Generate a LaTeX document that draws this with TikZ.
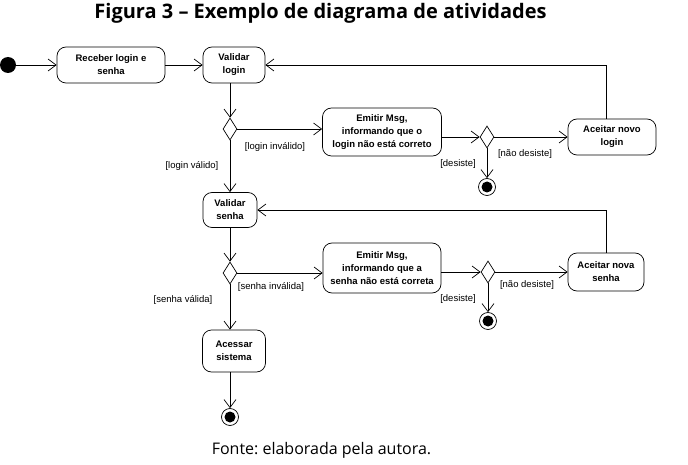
\documentclass[tikz,border=0pt]{standalone}
\usepackage{fontspec}
\setmainfont{Liberation Sans}
\newfontfamily\opensans{Open Sans}
\usetikzlibrary{arrows.meta,shapes.geometric}
\frenchspacing

\begin{document}
\begin{tikzpicture}[x=1pt,y=-1pt,->,>={Straight Barb[length=8pt,width=12pt]},line width=0.7pt,
    act node/.style={rectangle,draw,rounded corners=9pt,align=center,inner sep=2pt,minimum height=36pt,font=\bfseries\fontsize{9.5}{13}\selectfont},
    dec node/.style={diamond,draw,minimum width=14pt,minimum height=22pt,inner sep=0pt},
    start node/.style={circle,fill,minimum size=16pt,inner sep=0pt},
    end node/.style={circle,draw,minimum size=17pt,inner sep=0pt,path picture={\fill (path picture bounding box.center) circle (5.5pt);}},
    guard/.style={inner sep=0pt,font=\fontsize{9.5}{11}\selectfont}]

            \useasboundingbox (0,0) rectangle (688,465);

            \node (0) at (320.5,13) {\opensans\bfseries\fontsize{20}{24}\selectfont Figura 3 – Exemplo de diagrama de atividades};

            \node[start node] (1) at (8,65) {};
            \node[act node, minimum width=108pt] (2) at (111,65) {Receber login e\\senha};
            \node[act node, minimum width=62pt] (3) at (234,65) {Validar\\login};
            \node[dec node] (4) at (230,129) {};
            \node[act node, minimum width=119pt, minimum height=48pt] (5) at (382,132) {Emitir Msg,\\informando que o\\login não está correto};
            \node[dec node] (6) at (487,137) {};
            \node[end node] (7) at (487,187) {};
            \node[act node, minimum width=88pt] (8) at (612,137) {Aceitar novo\\login};
            \node[act node, minimum width=54pt, minimum height=35pt] (9) at (230,210) {Validar\\senha};
            \node[dec node] (10) at (230,273) {};
            \node[act node, minimum width=118pt, minimum height=50pt] (11) at (382,268) {Emitir Msg,\\informando que a\\senha não está correta};
            \node[dec node] (12) at (488,272) {};
            \node[end node] (13) at (488,321) {};
            \node[act node, minimum width=76pt, minimum height=38pt] (14) at (606,272) {Aceitar nova\\senha};
            \node[act node, minimum width=63pt, minimum height=42pt] (15) at (234,351) {Acessar\\sistema};
            \node[end node] (16) at (230,417) {};

            \node[guard] (17) at (275,147) {[login inválido]};
            \node[guard] (18) at (192,166) {[login válido]};
            \node[guard] (19) at (458,164) {[desiste]};
            \node[guard] (20) at (525,154) {[não desiste]};
            \node[guard] (21) at (271,287) {[senha inválida]};
            \node[guard] (22) at (183,300) {[senha válida]};
            \node[guard] (23) at (458,299) {[desiste]};
            \node[guard] (24) at (527,285) {[não desiste]};

            \node (25) at (321.5,450) {\opensans\fontsize{16}{19}\selectfont Fonte: elaborada pela autora.};

            \draw (1) to (2);
            \draw (2) to (3);
            \draw (3.south -| 4) to (4);
            \draw (4) to (4 -| 5.west);
            \draw (4) to (9);
            \draw (5.east |- 6) to (6);
            \draw (6) to (8);
            \draw (6) to (7);
            \draw ([xshift=-6pt]8.north) |- (3);
            \draw (9) to (10);
            \draw (10) to (10 -| 11.west);
            \draw (11.east |- 12) to (12);
            \draw (12) to (14);
            \draw (12) to (13);
            \draw (14) |- (9);
            \draw (10) to (15.north -| 10);
            \draw (15.south -| 16) to (16);

            ;
        \end{tikzpicture}
\end{document}
